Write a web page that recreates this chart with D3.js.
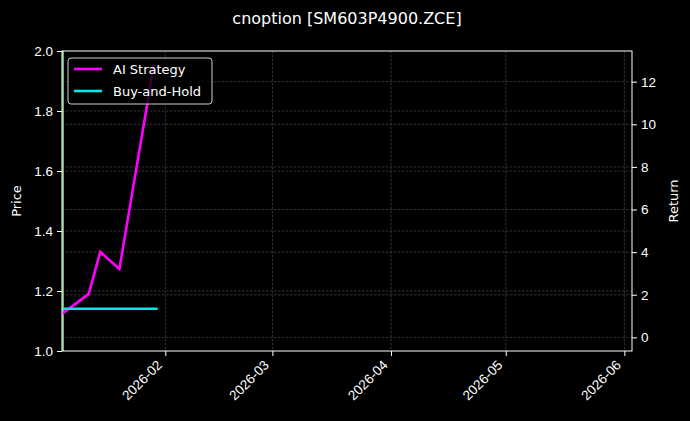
<!DOCTYPE html>
<html>
<head>
<meta charset="utf-8">
<script src="https://cdn.jsdelivr.net/npm/d3@7"></script>
<style>
  body { margin: 0; background: #000; }
  svg { display: block; font-family: "DejaVu Sans", sans-serif; }
</style>
</head>
<body>
<div id="container"></div>
<script>
const w = 690;
const h = 421;
const p = {top: 51, right: 58, bottom: 70, left: 62};

// chart values
const title = 'cnoption [SM603P4900.ZCE]';
const xDomain = ['2026-01-05', '2026-06-03'];
const xTicks = ['2026-02-01', '2026-03-01', '2026-04-01', '2026-05-01', '2026-06-01'];
const priceTicks = [1.0, 1.2, 1.4, 1.6, 1.8, 2.0];
const priceDomain = [1.0, 2.0];
const returnTicks = [0, 2, 4, 6, 8, 10, 12];
const returnDomain = [-0.64, 13.44];

const priceDates = ['2026-01-05', '2026-01-05'];
const priceValues = [0.5, 2.5];

const aiDates = ['2026-01-05', '2026-01-12', '2026-01-15', '2026-01-20', '2026-01-29'];
const aiReturn = [1.10, 2.04, 4.01, 3.21, 12.78];

const bhDates = ['2026-01-05', '2026-01-30'];
const bhReturn = [1.34, 1.34];

const parse = d3.timeParse('%Y-%m-%d');

const svg = d3.select('#container')
  .append('svg')
  .attr('width', w)
  .attr('height', h)
  .attr('viewBox', [0, 0, w, h]);

svg.append('rect').attr('width', w).attr('height', h).attr('fill', '#000');

const x = d3.scaleTime()
  .domain(xDomain.map(parse))
  .range([p.left, w - p.right]);
const yL = d3.scaleLinear()
  .domain(priceDomain)
  .range([h - p.bottom, p.top]);
const yR = d3.scaleLinear()
  .domain(returnDomain)
  .range([h - p.bottom, p.top]);

svg.append('defs').append('clipPath')
  .attr('id', 'clip')
  .append('rect')
  .attr('x', p.left)
  .attr('y', p.top)
  .attr('width', w - p.left - p.right)
  .attr('height', h - p.top - p.bottom);

// grid
const grid = svg.append('g')
  .attr('stroke', '#555')
  .attr('stroke-width', 0.6)
  .attr('stroke-dasharray', '2.5,1.5');
grid.selectAll('.gx')
  .data(xTicks.map(parse))
  .enter().append('line')
  .attr('x1', d => x(d)).attr('x2', d => x(d))
  .attr('y1', p.top).attr('y2', h - p.bottom);
grid.selectAll('.gl')
  .data(priceTicks.slice(1, -1))
  .enter().append('line')
  .attr('x1', p.left).attr('x2', w - p.right)
  .attr('y1', d => yL(d)).attr('y2', d => yL(d));
grid.selectAll('.gr')
  .data(returnTicks)
  .enter().append('line')
  .attr('x1', p.left).attr('x2', w - p.right)
  .attr('y1', d => yR(d)).attr('y2', d => yR(d));

// lines
const plot = svg.append('g').attr('clip-path', 'url(#clip)');

const priceLine = d3.line()
  .x((d, i) => x(parse(priceDates[i])) + 1)
  .y(d => yL(d));
plot.append('path')
  .attr('d', priceLine(priceValues))
  .attr('fill', 'none')
  .attr('stroke', '#90ee90')
  .attr('stroke-width', 1.5);

const retLine = dates => d3.line()
  .x((d, i) => x(parse(dates[i])))
  .y(d => yR(d));

plot.append('path')
  .attr('d', retLine(aiDates)(aiReturn))
  .attr('fill', 'none')
  .attr('stroke', '#ff00ff')
  .attr('stroke-width', 2.6)
  .attr('stroke-linejoin', 'miter');

plot.append('path')
  .attr('d', retLine(bhDates)(bhReturn))
  .attr('fill', 'none')
  .attr('stroke', '#00e8e8')
  .attr('stroke-width', 2.6);

// axes
const axisStyle = g => {
  g.selectAll('.domain').remove();
  g.selectAll('line').attr('stroke', '#fff');
  g.selectAll('text').attr('fill', '#fff').style('font-size', '13.5px');
};

svg.append('g')
  .attr('transform', 'translate(0,' + (h - p.bottom) + ')')
  .call(d3.axisBottom(x).tickValues(xTicks.map(parse)).tickFormat(d3.timeFormat('%Y-%m')).tickSize(5))
  .call(axisStyle)
  .call(g => g.selectAll('text')
    .attr('text-anchor', 'end')
    .attr('x', 0)
    .attr('y', 0)
    .attr('dy', null)
    .attr('transform', 'translate(-3,15) rotate(-45)'));

svg.append('g')
  .attr('transform', 'translate(' + p.left + ',0)')
  .call(d3.axisLeft(yL).tickValues(priceTicks).tickFormat(d3.format('.1f')).tickSize(5).tickPadding(4))
  .call(axisStyle);

svg.append('g')
  .attr('transform', 'translate(' + (w - p.right) + ',0)')
  .call(d3.axisRight(yR).tickValues(returnTicks).tickFormat(d3.format('d')).tickSize(5).tickPadding(4))
  .call(axisStyle);

// frame
svg.append('rect')
  .attr('x', p.left)
  .attr('y', p.top)
  .attr('width', w - p.left - p.right)
  .attr('height', h - p.top - p.bottom)
  .attr('fill', 'none')
  .attr('stroke', '#fff')
  .attr('stroke-width', 1);

// labels
svg.append('text')
  .attr('x', (p.left + w - p.right) / 2)
  .attr('y', 24)
  .attr('text-anchor', 'middle')
  .attr('fill', '#fff')
  .style('font-size', '16px')
  .text(title);

svg.append('text')
  .attr('transform', 'translate(21,' + ((p.top + h - p.bottom) / 2) + ') rotate(-90)')
  .attr('text-anchor', 'middle')
  .attr('fill', '#fff')
  .style('font-size', '13px')
  .text('Price');

svg.append('text')
  .attr('transform', 'translate(678,' + ((p.top + h - p.bottom) / 2) + ') rotate(-90)')
  .attr('text-anchor', 'middle')
  .attr('fill', '#fff')
  .style('font-size', '13px')
  .text('Return');

// legend
const legendItems = [
  {name: 'AI Strategy', color: '#ff00ff'},
  {name: 'Buy-and-Hold', color: '#00e8e8'}
];
const legend = svg.append('g').attr('transform', 'translate(68,58)');
legend.append('rect')
  .attr('width', 144)
  .attr('height', 46)
  .attr('rx', 3)
  .attr('fill', '#000')
  .attr('fill-opacity', 0.8)
  .attr('stroke', '#cccccc')
  .attr('stroke-width', 1);
const li = legend.selectAll('.li')
  .data(legendItems)
  .enter().append('g')
  .attr('transform', (d, i) => 'translate(0,' + (11 + i * 22) + ')');
li.append('line')
  .attr('x1', 6).attr('x2', 34)
  .attr('stroke', d => d.color)
  .attr('stroke-width', 2.6);
li.append('text')
  .attr('x', 45)
  .attr('dy', '0.35em')
  .attr('fill', '#fff')
  .style('font-size', '13px')
  .text(d => d.name);
</script>
</body>
</html>
